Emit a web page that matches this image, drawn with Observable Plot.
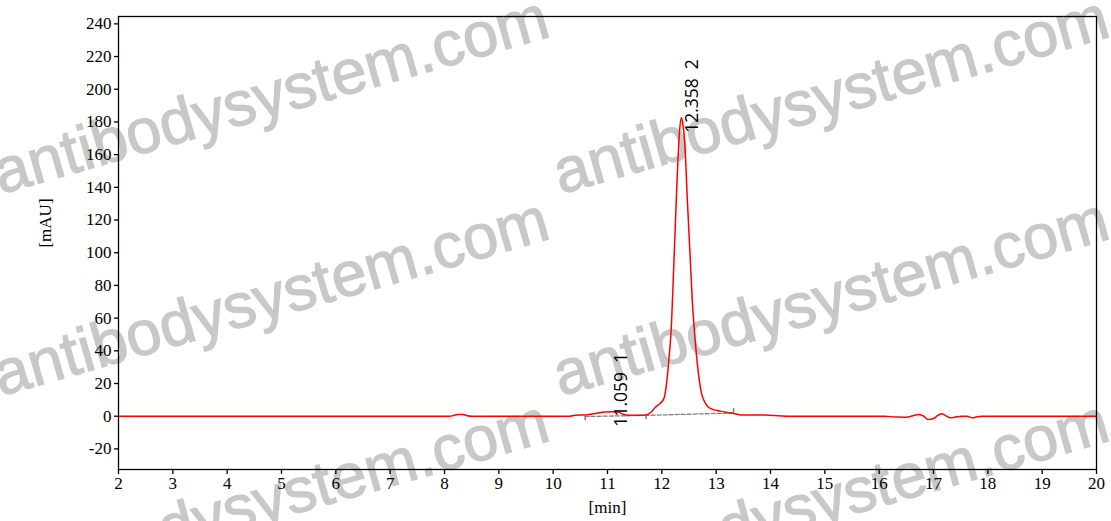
<!DOCTYPE html>
<html><head><meta charset="utf-8">
<script src="https://cdn.jsdelivr.net/npm/d3@7"></script>
<script src="https://cdn.jsdelivr.net/npm/@observablehq/plot@0.6"></script>
<style>
html,body{margin:0;padding:0;background:#fff;}
#wrap{position:relative;width:1111px;height:521px;overflow:hidden;background:#fff;}
#wm{position:absolute;left:0;top:0;width:1111px;height:521px;overflow:hidden;pointer-events:none;z-index:0;}
#wm span{position:absolute;font-family:"Liberation Sans",Arial,sans-serif;font-weight:normal;font-size:63px;color:#c8c8c8;-webkit-text-stroke:1.2px #c8c8c8;white-space:nowrap;transform-origin:0 100%;transform:rotate(-16deg);line-height:62px;height:62px;}
#chart{position:relative;z-index:1;}
#chart svg{font-family:"Liberation Serif","Times New Roman",serif;font-size:17px;background:transparent;}
</style></head><body>
<div id="wrap"><div id="wm"></div><div id="chart"></div></div>
<script>
// Chromatogram trace (retention time in min, absorbance in mAU)
const time = [2, 8.1, 8.18, 8.25, 8.35, 8.42, 8.5,
  10.3, 10.4, 10.6, 10.8, 10.95, 11.1, 11.2, 11.3, 11.4, 11.6, 11.7,
  11.8, 11.88, 11.98, 12.04, 12.09, 12.13, 12.17, 12.23, 12.29, 12.33,
  12.36, 12.39, 12.42, 12.47, 12.52, 12.56, 12.61, 12.66, 12.73, 12.8,
  12.86, 12.95, 13.05, 13.2, 13.35, 13.45, 13.9, 14.2, 14.3,
  16.1, 16.3, 16.5, 16.62, 16.73, 16.82, 16.9, 17.0, 17.08, 17.15,
  17.23, 17.32, 17.42, 17.52, 17.62, 17.72, 17.8, 17.88, 18.5, 20];
const absorbance = [0, 0, 0.6, 1.0, 1.0, 0.3, 0,
  0, 0.6, 0.8, 1.8, 2.6, 2.8, 2.5, 1.0, 0.6, 0.6, 0.8,
  2.4, 5.5, 8.2, 11, 21, 35, 52, 101, 152, 176,
  182.5, 178, 168, 132, 98, 71, 48, 30, 14, 8,
  5.5, 4, 3.3, 2.3, 1.5, 0.8, 0.7, 0.1, 0,
  0, -0.5, -0.6, 0.3, 1.0, 0, -2.0, -1.4, 0.5, 1.5,
  0.2, -1.0, -0.4, 0, -0.1, -1.0, -0.4, 0, 0, 0];

// Peaks
const peakTimes = [11.059, 12.358];
const peakHeights = [2.8, 182.5];
const peakLabels = ["11.059\u00a0\u00a01", "12.358\u00a0\u00a02"];

// Integration baseline (dashed) and its end markers
const baseTimes = [10.59, 11.71, 13.32];
const baseValues = [-0.2, 0.5, 2.0];
const markEnds = [-2.8, -2.0, 4.6];

// Axes
const xTicks = [2, 3, 4, 5, 6, 7, 8, 9, 10, 11, 12, 13, 14, 15, 16, 17, 18, 19, 20];
const yTicks = [-20, 0, 20, 40, 60, 80, 100, 120, 140, 160, 180, 200, 220, 240];
const xLabel = "[min]";
const yLabel = "[mAU]";
const watermarkText = "antibodysystem.com";

const trace = time.map((t, i) => ({t, a: absorbance[i]}));
const peaks = peakTimes.map((t, i) => ({t, h: peakHeights[i], label: peakLabels[i]}));
const base = baseTimes.map((t, i) => ({t, v: baseValues[i], e: markEnds[i]}));

const serif = "'Liberation Serif', 'Times New Roman', serif";

const chart = Plot.plot({
  width: 1111, height: 521,
  marginLeft: 118, marginRight: 15, marginTop: 16, marginBottom: 52,
  style: {background: "transparent", color: "#000"},
  x: {domain: [2, 20]},
  y: {domain: [-32.6, 244.5]},
  marks: [
    Plot.axisX({ticks: xTicks, tickSize: 5, tickPadding: 2, label: null, tickFormat: d => String(d),
      stroke: "#000", strokeWidth: 1.3, fontFamily: serif, fontSize: 17, fill: "#000"}),
    Plot.axisY({ticks: yTicks, tickSize: 4, tickPadding: 3, label: null, tickFormat: d => String(d),
      stroke: "#000", strokeWidth: 1.3, fontFamily: serif, fontSize: 17, fill: "#000"}),
    Plot.text([xLabel], {frameAnchor: "bottom", dy: 38, textAnchor: "middle", lineAnchor: "middle",
      fontFamily: serif, fontSize: 17, fill: "#000"}),
    Plot.text([yLabel], {frameAnchor: "left", dx: -73, dy: -20, rotate: -90, textAnchor: "middle", lineAnchor: "middle",
      fontFamily: serif, fontSize: 17, fill: "#000"}),
    Plot.line(base, {x: "t", y: "v", stroke: "#808080", strokeWidth: 1.3, strokeDasharray: "4,2"}),
    Plot.ruleX(base, {x: "t", y1: "v", y2: "e", stroke: "#808080", strokeWidth: 1.6}),
    Plot.line(trace, {x: "t", y: "a", stroke: "#ff0000", strokeWidth: 1.5, curve: "monotone-x"}),
    Plot.text(peaks, {x: "t", y: "h", text: "label", rotate: -90, textAnchor: "start", dx: 11, dy: 15,
      fontFamily: "'Open Sans', sans-serif", fontSize: 17.5, fill: "#000"}),
    Plot.frame({stroke: "#000", strokeWidth: 1.3})
  ]
});
document.getElementById("chart").appendChild(chart);

// Watermark overlay (layout only)
const wm = document.getElementById("wm");
const wmLefts = [3, 563];
const wmBottoms = [203, 405, 607];
for (const b of wmBottoms) for (const l of wmLefts) {
  const s = document.createElement("span");
  s.textContent = watermarkText;
  s.style.left = l + "px";
  s.style.top = (b - 62) + "px";
  wm.appendChild(s);
}
</script>
</body></html>
